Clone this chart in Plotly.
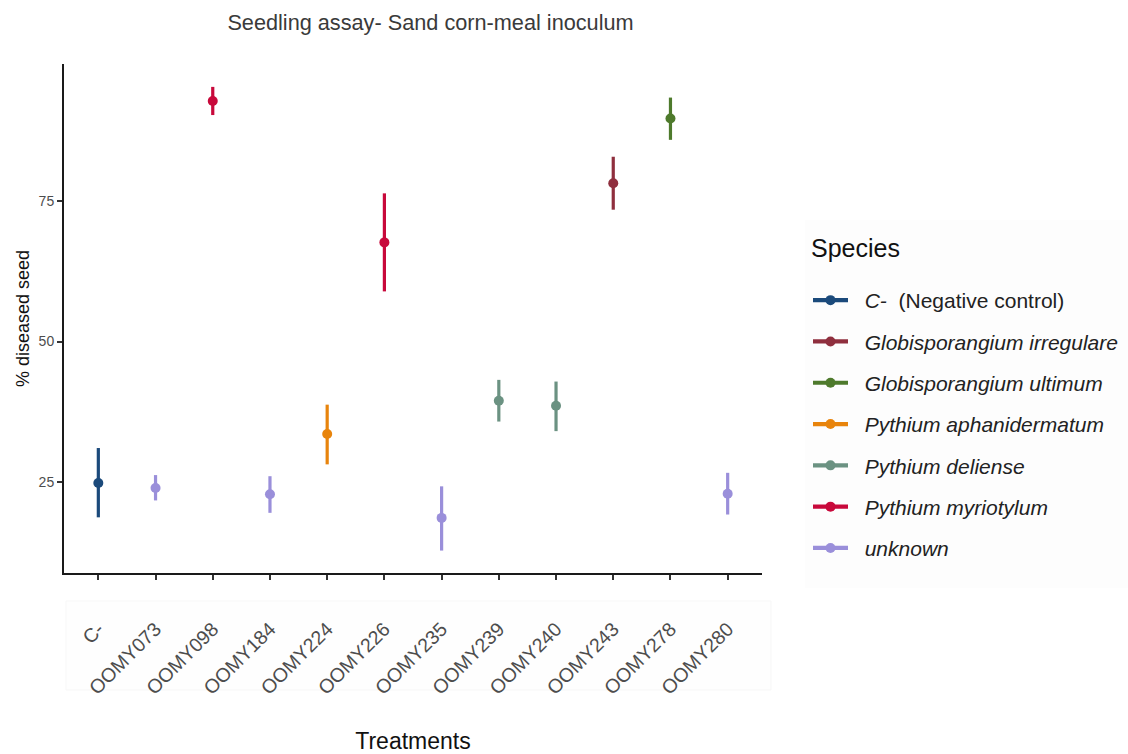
import plotly.graph_objects as go

# Treatments on the x axis, in display order
treatments = ["C-", "OOMY073", "OOMY098", "OOMY184", "OOMY224", "OOMY226",
              "OOMY235", "OOMY239", "OOMY240", "OOMY243", "OOMY278", "OOMY280"]

# Species assigned to each treatment
species = ["C- (Negative control)", "unknown", "Pythium myriotylum", "unknown",
           "Pythium aphanidermatum", "Pythium myriotylum", "unknown",
           "Pythium deliense", "Pythium deliense", "Globisporangium irregulare",
           "Globisporangium ultimum", "unknown"]

# Mean % diseased seed and interval bounds
mean_pct = [24.9, 24.0, 92.7, 22.9, 33.6, 67.6, 18.7, 39.5, 38.6, 78.1, 89.6, 23.0]
lower_pct = [18.8, 21.8, 90.2, 19.6, 28.2, 58.9, 12.9, 35.8, 34.1, 73.4, 85.8, 19.3]
upper_pct = [31.1, 26.3, 95.2, 26.1, 38.8, 76.3, 24.3, 43.2, 42.9, 82.8, 93.3, 26.7]

# Legend order and colours
species_order = ["C- (Negative control)", "Globisporangium irregulare",
                 "Globisporangium ultimum", "Pythium aphanidermatum",
                 "Pythium deliense", "Pythium myriotylum", "unknown"]
species_colors = ["#1b4a7b", "#8f2f3e", "#4e7a2c", "#e8840c",
                  "#6b9282", "#c8093b", "#9a8fda"]
legend_labels = ["<i>C-</i>  (Negative control)", "<i>Globisporangium irregulare</i>",
                 "<i>Globisporangium ultimum</i>", "<i>Pythium aphanidermatum</i>",
                 "<i>Pythium deliense</i>", "<i>Pythium myriotylum</i>", "<i>unknown</i>"]

# plot panel geometry in pixels
L, R, T, B = 64, 762, 64, 573
PW, PH = R - L, B - T


def px_x(x):
    return (x - L) / PW


def px_y(y):
    return (B - y) / PH


fig = go.Figure()

for sp, col, lab in zip(species_order, species_colors, legend_labels):
    idx = [i for i, s in enumerate(species) if s == sp]
    xs = [treatments[i] for i in idx]
    ys = [mean_pct[i] for i in idx]
    plus = [upper_pct[i] - mean_pct[i] for i in idx]
    minus = [mean_pct[i] - lower_pct[i] for i in idx]
    fig.add_trace(go.Scatter(
        x=xs, y=ys, mode="markers",
        marker=dict(color=col, size=10),
        error_y=dict(type="data", array=plus, arrayminus=minus,
                     color=col, thickness=3.2, width=0),
        showlegend=False, legendgroup=sp, hoverinfo="x+y",
    ))
    # legend key: line with point, as in a pointrange legend
    fig.add_trace(go.Scatter(
        x=[None], y=[None], mode="lines+markers",
        name="&nbsp;&nbsp;" + lab,
        line=dict(color=col, width=4.2), marker=dict(color=col, size=10),
        legendgroup=sp, showlegend=True,
    ))

# faint panels behind legend and tick labels
fig.add_shape(type="rect", xref="paper", yref="paper",
              x0=px_x(805), x1=px_x(1128), y0=px_y(588), y1=px_y(220),
              fillcolor="#fdfdfd", line=dict(width=0), layer="below")
fig.add_shape(type="rect", xref="paper", yref="paper",
              x0=px_x(66), x1=px_x(771), y0=px_y(690), y1=px_y(601),
              fillcolor="#fefefe", line=dict(width=1, color="#f7f7f7"), layer="below")

# legend heading
fig.add_annotation(text="Species", xref="paper", yref="paper",
                   x=px_x(809), y=px_y(248), xanchor="left", yanchor="middle",
                   showarrow=False, font=dict(size=25, color="#111111"))

fig.update_layout(
    width=1128, height=754,
    margin=dict(l=L, r=1128 - R, t=T, b=754 - B, autoexpand=False),
    paper_bgcolor="white", plot_bgcolor="white",
    font=dict(family="Liberation Sans, Arial, sans-serif"),
    title=dict(text="Seedling assay- Sand corn-meal inoculum",
               x=430.5 / 1128, xref="container", xanchor="center",
               y=1 - 22 / 754, yref="container", yanchor="middle",
               font=dict(size=21.7, color="#3a3a3a")),
    xaxis=dict(
        type="category", categoryorder="array", categoryarray=treatments,
        range=[-0.6, 11.6], showline=True, linecolor="#1a1a1a", linewidth=2,
        ticks="outside", ticklen=5, tickwidth=2, tickcolor="#333333",
        tickangle=-45, tickfont=dict(size=19.5, color="#4d4d4d"),
        ticklabelstandoff=30,
        showgrid=False, zeroline=False,
        title=dict(text="Treatments", font=dict(size=23, color="#111111"), standoff=52),
    ),
    yaxis=dict(
        range=[8.92, 99.26], tickvals=[25, 50, 75],
        showline=True, linecolor="#1a1a1a", linewidth=2,
        ticks="outside", ticklen=5, tickwidth=2, tickcolor="#333333",
        tickfont=dict(size=14, color="#4d4d4d"),
        showgrid=False, zeroline=False,
        title=dict(text="% diseased seed", font=dict(size=18, color="#111111"), standoff=4),
    ),
    legend=dict(
        x=px_x(808), xanchor="left", y=px_y(280), yanchor="top",
        font=dict(size=21, color="#222222"), itemwidth=35,
        tracegroupgap=11, bgcolor="rgba(0,0,0,0)",
    ),
)

fig.write_html("out.html")
